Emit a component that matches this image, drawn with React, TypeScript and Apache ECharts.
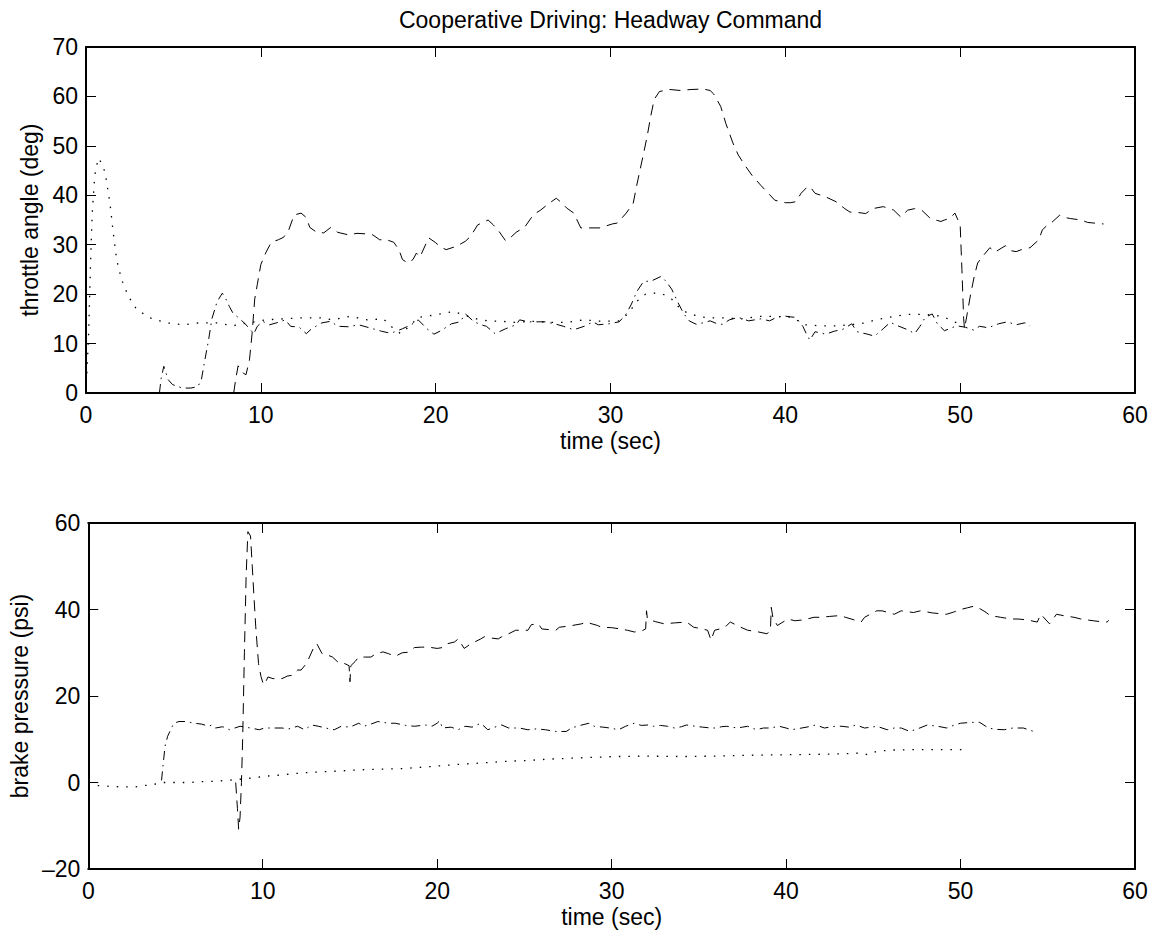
import React, { useEffect, useRef } from "react";
import * as echarts from "echarts";

const TITLE = "Cooperative Driving: Headway Command";
const X_NAME = "time (sec)";
const TOP_Y_NAME = "throttle angle (deg)";
const BOTTOM_Y_NAME = "brake pressure (psi)";

// Throttle angle (deg) vs time (sec)
const throttleDashed: [number, number][] = [
  [8.45, 0], [8.55, 2.5], [8.7, 5.5], [9.0, 4], [9.15, 3.7], [9.35, 6.7], [9.5, 12], [9.65, 19], [9.8, 22], [10.0, 26],
  [10.3, 28.5], [10.6, 30.5], [11.0, 31], [11.3, 31.5], [11.6, 33], [11.9, 36], [12.3, 36.4], [12.6, 35.5], [12.8, 33.5],
  [13.2, 32.5], [13.6, 32.4], [14.0, 33.5], [14.4, 32.5], [15.0, 32], [15.5, 32.3], [16.0, 32.2], [16.4, 32], [16.8, 31],
  [17.2, 31], [17.6, 30.5], [17.9, 29], [18.1, 27], [18.4, 26.3], [18.7, 27], [18.9, 28.3], [19.1, 27.5], [19.6, 31.4],
  [20.0, 30.4], [20.3, 29.5], [20.6, 29], [21.2, 29.7], [21.7, 30.7], [22.0, 31.7], [22.4, 34], [22.7, 34.5], [23.0, 35],
  [23.3, 34], [23.6, 32.8], [24.0, 30.8], [24.3, 31.5], [24.6, 32.5], [25.1, 33.6], [25.6, 36.1], [26.0, 37], [26.5, 38.4],
  [26.9, 39.4], [27.2, 38.5], [27.5, 37.4], [27.9, 36.4], [28.3, 33.4], [29.4, 33.4], [30.1, 34.2], [30.4, 34.4],
  [30.9, 36.4], [31.3, 38.4], [31.5, 42], [31.9, 48.6], [32.1, 52], [32.3, 56], [32.5, 59.4], [32.8, 61], [33.4, 61.4],
  [34.0, 61.2], [34.6, 61.4], [35.3, 61.5], [35.7, 61.2], [35.9, 60.5], [36.3, 58], [36.6, 54.5], [37.0, 50.6],
  [37.3, 48.2], [37.7, 46], [38.1, 44], [38.6, 42], [39.0, 40.5], [39.4, 39], [40.0, 38.5], [40.3, 38.5], [40.6, 38.7],
  [40.9, 40.4], [41.2, 41.5], [41.4, 41.8], [41.7, 40.4], [42.3, 39.7], [42.9, 38.7], [43.4, 37.3], [43.7, 36.6],
  [44.2, 36.5], [44.6, 36.3], [45.0, 37.3], [45.6, 37.7], [46.2, 37], [46.6, 35.6], [47.0, 37], [47.4, 37.3], [47.8, 37],
  [48.3, 35.3], [48.9, 34.7], [49.1, 35], [49.4, 35.3], [49.7, 36.4], [50.0, 34], [50.1, 25], [50.2, 15], [50.25, 13],
  [50.4, 16], [50.6, 20], [50.8, 23.5], [51.0, 26.3], [51.3, 27.7], [51.7, 29.4], [52.0, 28.5], [52.4, 29.4], [52.6, 29.8],
  [52.9, 28.8], [53.2, 28.6], [53.5, 29], [54.0, 29.4], [54.5, 31], [54.7, 33], [55.0, 34], [55.3, 34.7], [55.7, 36],
  [56.0, 35.5], [56.3, 35.3], [56.9, 35], [57.3, 34.5], [57.6, 34.4], [58.2, 34.2],
];

const throttleDashDot: [number, number][] = [
  [4.2, 0], [4.3, 3], [4.45, 5.4], [4.7, 2.7], [4.95, 1.7], [5.5, 1], [6.0, 1], [6.4, 1.3], [6.6, 2.7], [6.8, 6.7],
  [7.0, 10.5], [7.2, 15], [7.5, 18.5], [7.8, 20.2], [8.0, 19], [8.2, 17.5], [8.4, 16.2], [8.8, 15], [9.1, 14], [9.4, 12.8],
  [9.6, 12], [9.8, 13.5], [10.1, 14.5], [10.5, 13.8], [11.0, 14.3], [11.4, 14.8], [11.7, 13.5], [12.2, 13.3], [12.6, 12],
  [12.9, 13], [13.5, 14.2], [14.0, 14.5], [14.4, 13.5], [15.0, 13.4], [15.6, 13.8], [16.2, 13.2], [16.9, 12.5],
  [17.4, 12.1], [17.6, 12.3], [18.1, 13], [18.6, 13.8], [19.0, 14.8], [19.5, 13], [19.9, 11.9], [20.3, 12.6], [20.9, 14],
  [21.4, 14.4], [21.7, 16], [22.2, 14.4], [22.6, 13.8], [22.9, 13.5], [23.4, 12], [24.0, 13], [24.6, 13.8], [24.8, 14.8],
  [25.3, 14.4], [25.8, 14.4], [26.3, 14.4], [26.8, 14], [27.3, 13.5], [27.9, 12.8], [28.5, 13.5], [29.0, 14.4],
  [29.3, 13.8], [29.9, 14], [30.5, 14.4], [30.9, 16], [31.2, 18], [31.5, 20.5], [31.9, 22.6], [32.3, 22.6], [32.9, 23.6],
  [33.2, 22.5], [33.5, 21], [33.9, 18], [34.2, 16], [34.5, 14.6], [34.9, 13.9], [35.3, 14.2], [35.7, 14.6], [36.1, 14],
  [36.4, 13.9], [36.8, 14.8], [37.3, 15.3], [37.9, 14.6], [38.6, 15], [39.1, 14.6], [39.5, 15.3], [39.9, 15.6],
  [40.3, 15.4], [40.6, 15.3], [41.0, 13.5], [41.2, 12], [41.4, 10.7], [41.7, 12.4], [42.3, 11.9], [42.8, 12.5],
  [43.3, 12.9], [43.8, 14], [44.1, 12.4], [44.7, 11.9], [45.1, 11.5], [45.6, 13], [46.0, 14.3], [46.5, 13.5], [47.0, 12.8],
  [47.4, 12], [47.7, 13.5], [48.0, 15.3], [48.4, 16], [48.7, 14], [49.1, 12.6], [49.8, 13.6], [50.3, 13.3], [50.8, 12.7],
  [51.1, 13.5], [51.6, 13.2], [52.2, 14], [52.7, 14.4], [53.2, 13.8], [53.7, 14.2], [54.0, 13.6],
];

const throttleDotted: [number, number][] = [
  [0.05, 4], [0.15, 12], [0.25, 25], [0.35, 36], [0.5, 44], [0.7, 47.5], [0.9, 46.5], [1.1, 44.5], [1.37, 38.4],
  [1.56, 32.4], [1.75, 27], [2.04, 22.9], [2.42, 19.6], [2.9, 16.9], [3.66, 15.2], [4.6, 14.2], [5.57, 13.8], [6.5, 14.2],
  [7.5, 14.2], [8.4, 13.6], [9.3, 14.2], [10.3, 14.8], [11.3, 15], [12.2, 15.2], [13.4, 15.2], [14.1, 14.8], [15.1, 15.5],
  [16.1, 14.8], [17.0, 15], [17.6, 13], [18.0, 12], [18.5, 13.5], [19.0, 15.3], [20.0, 15.8], [21.0, 16.5], [21.6, 15.8],
  [22.5, 14.8], [23.0, 14.6], [23.8, 14.5], [24.5, 14.3], [25.5, 14.5], [26.5, 14.3], [27.5, 14.3], [28.5, 14.8],
  [29.5, 14.5], [30.5, 14.6], [31.0, 16], [31.5, 18.5], [32.0, 20], [32.5, 20.2], [33.0, 20], [33.5, 19], [34.0, 17],
  [34.5, 16], [35.5, 15.2], [36.5, 15.2], [37.5, 15], [38.5, 15.5], [39.5, 15.5], [40.4, 15.3], [41.1, 13.8], [42.0, 13.6],
  [43.0, 13.6], [44.3, 14], [45.2, 14.8], [46.2, 15.5], [47.0, 15.9], [48.0, 15.9], [49.0, 15.5], [49.6, 14.5], [50.2, 13.6],
];

// Brake pressure (psi) vs time (sec)
const brakeDashed: [number, number][] = [
  [8.45, 0], [8.55, -6], [8.62, -10.8], [8.7, -8], [8.78, 0], [8.85, 10], [8.95, 30], [9.05, 48], [9.15, 58], [9.3, 57],
  [9.4, 50], [9.5, 42.8], [9.6, 36], [9.76, 27.5], [9.9, 24.5], [10.0, 23.2], [10.1, 22.6], [10.3, 24.4], [10.6, 24],
  [10.9, 24.2], [11.1, 24], [11.4, 24.6], [11.7, 24.8], [12.0, 26], [12.2, 26], [12.4, 27], [12.6, 28.3], [12.9, 31],
  [13.1, 32.1], [13.4, 29.8], [13.7, 29.5], [14.0, 29], [14.4, 27.5], [14.7, 27.5], [14.95, 27], [15.0, 23.3], [15.05, 27],
  [15.3, 28], [15.5, 29], [15.9, 29], [16.2, 29], [16.5, 29.8], [16.9, 30.2], [17.2, 29.8], [17.6, 29.2], [18.0, 30],
  [18.3, 30.1], [18.7, 31.2], [19.1, 31.3], [19.5, 31.3], [20.0, 31], [20.3, 31.2], [20.6, 32.1], [21.0, 32.5],
  [21.2, 33.2], [21.55, 31], [21.9, 32], [22.5, 33.2], [22.7, 33.7], [23.1, 33.4], [23.5, 33.2], [23.7, 33.7],
  [24.1, 34.4], [24.5, 35.2], [25.2, 35.2], [25.4, 36.5], [25.8, 36.7], [26.0, 35.5], [26.8, 35.2], [27.0, 35.9],
  [27.6, 36.2], [28.3, 36.7], [28.5, 37.1], [29.2, 36.3], [29.4, 35.9], [30.0, 35.8], [30.5, 35.5], [30.9, 35.2],
  [31.3, 34.8], [31.7, 35], [31.95, 35.5], [32.0, 39.7], [32.05, 37.8], [32.5, 37.2], [33.0, 36.7], [33.6, 36.9],
  [34.3, 37.1], [34.7, 35.9], [35.1, 35.6], [35.5, 35.2], [35.7, 32.9], [35.9, 35.2], [36.3, 35.6], [36.6, 36.3],
  [36.8, 37.1], [37.1, 36.5], [37.4, 35.9], [37.8, 35.2], [38.3, 34.9], [38.9, 34.4], [39.1, 35], [39.15, 40.5],
  [39.25, 38], [39.5, 36.3], [40.1, 37.8], [40.5, 37.4], [41.0, 37.6], [41.6, 38.2], [42.0, 38.2], [42.5, 38.4],
  [43.1, 38.6], [43.4, 38.2], [43.9, 37.6], [44.3, 37.1], [44.5, 38.2], [45.2, 39.7], [45.5, 39.7], [46.2, 38.9],
  [46.6, 39.7], [47.3, 39.3], [47.7, 39.7], [48.4, 39.2], [49.2, 38.9], [49.6, 39.4], [50.0, 40], [50.4, 40.4],
  [50.8, 40.8], [51.1, 40.2], [51.4, 39.5], [51.7, 38.6], [52.3, 38.2], [52.9, 37.8], [53.3, 37.8], [53.8, 37.6],
  [54.4, 37.1], [54.6, 38.9], [55.1, 36.7], [55.5, 38.9], [56.0, 38.5], [56.5, 38.2], [56.9, 37.8], [57.6, 37.4],
  [58.0, 37.2], [58.4, 37.1], [58.5, 37.5],
];

const brakeDashDot: [number, number][] = [
  [4.2, 0.5], [4.3, 4.5], [4.4, 8.4], [4.55, 10.7], [4.9, 13.7], [5.2, 14.1], [5.6, 14.1], [6.1, 13.7], [6.5, 13.5],
  [6.9, 13], [7.1, 13.3], [7.3, 12.6], [7.7, 12.9], [8.1, 12.2], [8.4, 12.6], [8.7, 13], [9.0, 12.8], [9.3, 12.6],
  [9.8, 12.2], [10.1, 12.6], [10.5, 12.6], [11.1, 12.6], [11.5, 12.4], [12.0, 13], [12.4, 12.2], [12.8, 13.3], [13.2, 13],
  [13.6, 12.6], [14.1, 12.2], [14.5, 13], [15.0, 12.8], [15.5, 13.7], [15.8, 13], [16.2, 13.5], [16.6, 14.1], [17.2, 13.7],
  [17.6, 13.7], [18.2, 13.2], [18.7, 13], [19.3, 13.3], [19.7, 13], [20.0, 13.7], [20.15, 14.3], [20.3, 12.6], [20.8, 12.8],
  [21.2, 12.2], [21.6, 13], [22.0, 12.8], [22.5, 13.7], [22.9, 12.2], [23.3, 12.8], [23.7, 13.3], [24.1, 12.6], [24.7, 12.6],
  [25.2, 12.2], [25.7, 12.4], [26.2, 12.2], [26.8, 11.8], [27.4, 11.8], [27.7, 12.6], [28.2, 13.2], [28.7, 13.7], [29.0, 13],
  [29.5, 12.8], [29.9, 12.6], [30.4, 12.2], [30.8, 13], [31.3, 13.7], [31.7, 13.2], [32.1, 13.3], [32.4, 13], [32.8, 13.2],
  [33.2, 13], [33.6, 12.6], [34.0, 12.9], [34.3, 13.3], [34.8, 13], [35.2, 12.8], [35.7, 12.6], [36.0, 12.6], [36.3, 12.9],
  [36.6, 13], [37.2, 12.6], [37.5, 12.8], [37.8, 13], [38.3, 12.2], [38.7, 12.6], [39.1, 12.6], [39.6, 13], [40.0, 12.6],
  [40.3, 12.2], [40.9, 12.6], [41.3, 12.9], [41.7, 13.3], [42.2, 12.6], [42.8, 13], [43.2, 13], [43.6, 12.8], [44.0, 13.3],
  [44.5, 12.6], [44.9, 12.8], [45.2, 13], [45.8, 12.2], [46.2, 12.6], [46.6, 12.6], [47.1, 11.8], [47.6, 12.5], [48.1, 13.3],
  [48.7, 13], [49.2, 12.6], [49.6, 13.2], [50.0, 13.7], [50.6, 13.9], [51.1, 13.9], [51.6, 12.6], [52.0, 12.3], [52.5, 12.2],
  [53.0, 12.6], [53.6, 12.6], [54.2, 11.8],
];

const brakeDotted: [number, number][] = [
  [0, -0.5], [0.8, -0.8], [1.8, -1], [2.7, -1], [3.2, -0.7], [3.7, -0.5], [4.2, 0], [5.0, 0], [5.8, 0], [6.5, 0.2],
  [7.3, 0.3], [8.0, 0.5], [8.8, 0.8], [9.5, 1.1], [10.3, 1.5], [11.2, 1.8], [12.2, 2.2], [13.1, 2.4], [14.1, 2.6],
  [15.0, 2.8], [16.0, 3], [17.0, 3.1], [18.0, 3.2], [19.0, 3.5], [20.0, 3.8], [21.2, 4.2], [22.5, 4.5], [24.0, 4.9],
  [25.2, 5.1], [26.4, 5.4], [28.2, 5.7], [30.2, 6], [32.0, 6.1], [34.1, 6], [36.0, 6.1], [38.0, 6.3], [39.7, 6.4],
  [41.5, 6.5], [43.0, 6.6], [44.3, 6.8], [44.7, 6.4], [45.2, 7.2], [46.0, 7.5], [47.5, 7.6], [49.0, 7.6], [50.1, 7.6],
];

const X_TICKS = { min: 0, max: 60, interval: 10 };
const TOP_Y_TICKS = { min: 0, max: 70, interval: 10 };
const BOTTOM_Y_TICKS = { min: -20, max: 60, interval: 20 };

const FONT = '"Liberation Sans", Arial, Helvetica, sans-serif';
const FS = 23;
const BLACK = "#000";

const DASHED = [11, 7];
const DASHDOT = [9, 5, 1.5, 5];
const DOTTED = [1.5, 8];

function xAxis(gridIndex: number, position: "bottom" | "top", main: boolean) {
  return {
    type: "value",
    gridIndex,
    position,
    ...X_TICKS,
    name: main ? X_NAME : "",
    nameLocation: "middle",
    nameGap: 36,
    nameTextStyle: { color: BLACK, fontFamily: FONT, fontSize: FS },
    axisLine: { show: true, onZero: false, lineStyle: { color: BLACK, width: 2 } },
    axisTick: { show: true, inside: true, length: 10, lineStyle: { color: BLACK, width: 1 } },
    axisLabel: {
      show: main,
      color: BLACK,
      fontFamily: FONT,
      fontSize: FS,
      margin: 10,
      showMinLabel: true,
      showMaxLabel: true,
    },
    splitLine: { show: false },
  };
}

function yAxis(gridIndex: number, position: "left" | "right", main: boolean, ticks: any, name: string, gap: number) {
  return {
    type: "value",
    gridIndex,
    position,
    ...ticks,
    name: main ? name : "",
    nameLocation: "middle",
    nameGap: gap,
    nameRotate: 90,
    nameTextStyle: { color: BLACK, fontFamily: FONT, fontSize: FS },
    axisLine: { show: true, onZero: false, lineStyle: { color: BLACK, width: 2 } },
    axisTick: { show: true, inside: true, length: 10, lineStyle: { color: BLACK, width: 1 } },
    axisLabel: {
      show: main,
      color: BLACK,
      fontFamily: FONT,
      fontSize: FS,
      margin: 8,
      showMinLabel: true,
      showMaxLabel: true,
      formatter: (v: number) => String(v).replace("-", "\u2013"),
    },
    splitLine: { show: false },
  };
}

function line(data: [number, number][], dash: number[], xi: number, yi: number, width = 1) {
  return {
    type: "line",
    data,
    xAxisIndex: xi,
    yAxisIndex: yi,
    showSymbol: false,
    symbol: "none",
    silent: true,
    lineStyle: { color: BLACK, width, type: dash },
  };
}

export default function App() {
  const ref = useRef<HTMLDivElement>(null);
  useEffect(() => {
    if (!ref.current) return;
    const chart = echarts.init(ref.current, null, { renderer: "svg" });
    chart.setOption({
      animation: false,
      backgroundColor: "#fff",
      textStyle: { fontFamily: FONT },
      graphic: [
        {
          type: "text",
          x: 610.5,
          y: 20,
          style: {
            text: TITLE,
            fill: BLACK,
            font: `${FS}px ${FONT}`,
            fontSize: FS,
            fontFamily: FONT,
            align: "center",
            verticalAlign: "middle",
            textAlign: "center",
            textVerticalAlign: "middle",
          },
        },
      ],
      grid: [
        { left: 86, top: 47, width: 1049, height: 346, containLabel: false },
        { left: 86, top: 523, width: 1049, height: 346, containLabel: false },
      ],
      xAxis: [xAxis(0, "bottom", true), xAxis(0, "top", false), xAxis(1, "bottom", true), xAxis(1, "top", false)],
      yAxis: [
        yAxis(0, "left", true, TOP_Y_TICKS, TOP_Y_NAME, 40),
        yAxis(0, "right", false, TOP_Y_TICKS, TOP_Y_NAME, 40),
        yAxis(1, "left", true, BOTTOM_Y_TICKS, BOTTOM_Y_NAME, 53),
        yAxis(1, "right", false, BOTTOM_Y_TICKS, BOTTOM_Y_NAME, 53),
      ],
      series: [
        line(throttleDashed, DASHED, 0, 0),
        line(throttleDashDot, DASHDOT, 0, 0),
        line(throttleDotted, DOTTED, 0, 0, 1.3),
        line(brakeDashed, DASHED, 2, 2),
        line(brakeDashDot, DASHDOT, 2, 2),
        line(brakeDotted, DOTTED, 2, 2, 1.3),
      ],
    });
    return () => chart.dispose();
  }, []);
  return (
    <div
      ref={ref}
      style={{ position: "absolute", left: 0, top: 0, width: 1157, height: 936, background: "#fff" }}
    />
  );
}
